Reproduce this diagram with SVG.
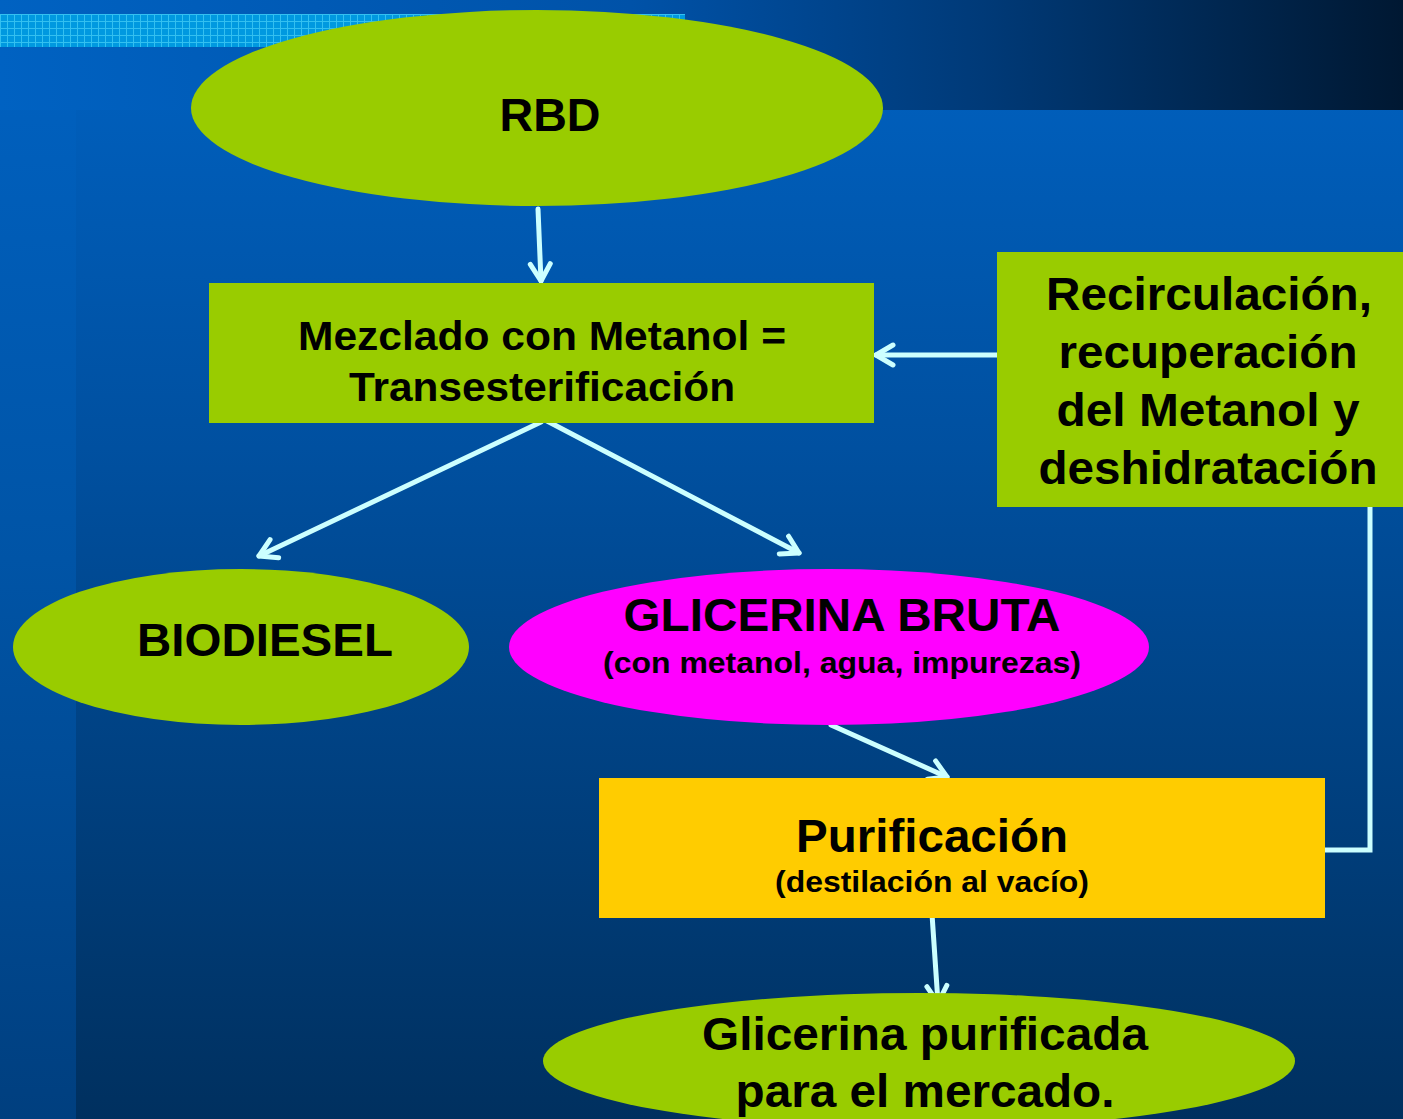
<svg xmlns="http://www.w3.org/2000/svg" width="1403" height="1119" viewBox="0 0 1403 1119">
<defs>
<linearGradient id="topband" x1="0" y1="0" x2="1" y2="0">
<stop offset="0" stop-color="#0062c2"/>
<stop offset="0.45" stop-color="#0052a8"/>
<stop offset="0.7" stop-color="#003a78"/>
<stop offset="1" stop-color="#001832"/>
</linearGradient>
<linearGradient id="main" x1="0" y1="0" x2="0" y2="1">
<stop offset="0" stop-color="#0062c2"/>
<stop offset="0.4" stop-color="#0050a0"/>
<stop offset="1" stop-color="#00305f"/>
</linearGradient>
<linearGradient id="strip" x1="0" y1="0" x2="0" y2="1">
<stop offset="0" stop-color="#0062c2"/>
<stop offset="0.5" stop-color="#0054a6"/>
<stop offset="1" stop-color="#003f7f"/>
</linearGradient>
<pattern id="grid" width="7" height="7" patternUnits="userSpaceOnUse">
<rect width="7" height="7" fill="#0099e0"/>
<path d="M0,0.5 H7 M0.5,0 V7" stroke="#33c0f0" stroke-width="1"/>
</pattern>
<marker id="arr" viewBox="0 0 26 26" markerWidth="26" markerHeight="26" refX="23" refY="13" orient="auto" markerUnits="userSpaceOnUse">
<path d="M6,3 L23,13 L6,23" fill="none" stroke="#ccffff" stroke-width="5" stroke-linecap="round" stroke-linejoin="round"/>
</marker>
<style>
.lbl{font-family:"Liberation Sans",Arial,sans-serif;font-weight:bold;fill:#000;text-anchor:middle}
.conn{stroke:#ccffff;stroke-width:5;fill:none;stroke-linecap:round}
</style>
</defs>
<g id="background">
<rect x="0" y="0" width="1403" height="1119" fill="url(#main)"/>
<rect x="0" y="0" width="76" height="1119" fill="url(#strip)"/>
<rect x="0" y="0" width="1403" height="110" fill="url(#topband)"/>
<rect x="0" y="14" width="685" height="33" fill="url(#grid)"/>
</g>
<g id="connectors">
<line class="conn" x1="538" y1="209" x2="541" y2="281" marker-end="url(#arr)"/>
<line class="conn" x1="997" y1="355" x2="876" y2="355" marker-end="url(#arr)"/>
<line class="conn" x1="541" y1="422" x2="259" y2="556" marker-end="url(#arr)"/>
<line class="conn" x1="547" y1="421" x2="799" y2="553" marker-end="url(#arr)"/>
<line class="conn" x1="831" y1="725" x2="947" y2="777" marker-end="url(#arr)"/>
<line class="conn" x1="932" y1="914" x2="938" y2="1003" marker-end="url(#arr)"/>
<polyline class="conn" style="stroke-linecap:butt" points="1325,850 1370,850 1370,507"/>
</g>
<g id="rbd">
<ellipse cx="537" cy="108" rx="346" ry="98" fill="#99cc00"/>
<text class="lbl" x="550" y="131" font-size="46" textLength="101" lengthAdjust="spacingAndGlyphs">RBD</text>
</g>
<g id="mezclado">
<rect x="209" y="283" width="665" height="140" fill="#99cc00"/>
<text class="lbl" x="542" y="350" font-size="40" textLength="488" lengthAdjust="spacingAndGlyphs">Mezclado con Metanol =</text>
<text class="lbl" x="542" y="401" font-size="40" textLength="386" lengthAdjust="spacingAndGlyphs">Transesterificación</text>
</g>
<g id="recirculacion">
<rect x="997" y="252" width="406" height="255" fill="#99cc00"/>
<text class="lbl" x="1209" y="310" font-size="47" textLength="326" lengthAdjust="spacingAndGlyphs">Recirculación,</text>
<text class="lbl" x="1208" y="368" font-size="47" textLength="299" lengthAdjust="spacingAndGlyphs">recuperación</text>
<text class="lbl" x="1208" y="426" font-size="47" textLength="303" lengthAdjust="spacingAndGlyphs">del Metanol y</text>
<text class="lbl" x="1208" y="484" font-size="47" textLength="339" lengthAdjust="spacingAndGlyphs">deshidratación</text>
</g>
<g id="biodiesel">
<ellipse cx="241" cy="647" rx="228" ry="78" fill="#99cc00"/>
<text class="lbl" x="265" y="656" font-size="46" textLength="256" lengthAdjust="spacingAndGlyphs">BIODIESEL</text>
</g>
<g id="glicerina-bruta">
<ellipse cx="829" cy="647" rx="320" ry="78" fill="#ff00ff"/>
<text class="lbl" x="842" y="631" font-size="46" textLength="437" lengthAdjust="spacingAndGlyphs">GLICERINA BRUTA</text>
<text class="lbl" x="842" y="673" font-size="30" textLength="478" lengthAdjust="spacingAndGlyphs">(con metanol, agua, impurezas)</text>
</g>
<g id="purificacion">
<rect x="599" y="778" width="726" height="140" fill="#ffcc00"/>
<text class="lbl" x="932" y="852" font-size="46" textLength="272" lengthAdjust="spacingAndGlyphs">Purificación</text>
<text class="lbl" x="932" y="892" font-size="30" textLength="314" lengthAdjust="spacingAndGlyphs">(destilación al vacío)</text>
</g>
<g id="glicerina-purificada">
<ellipse cx="919" cy="1061" rx="376" ry="68" fill="#99cc00"/>
<text class="lbl" x="925" y="1050" font-size="47" textLength="446" lengthAdjust="spacingAndGlyphs">Glicerina purificada</text>
<text class="lbl" x="925" y="1107" font-size="47" textLength="379" lengthAdjust="spacingAndGlyphs">para el mercado.</text>
</g>
</svg>
